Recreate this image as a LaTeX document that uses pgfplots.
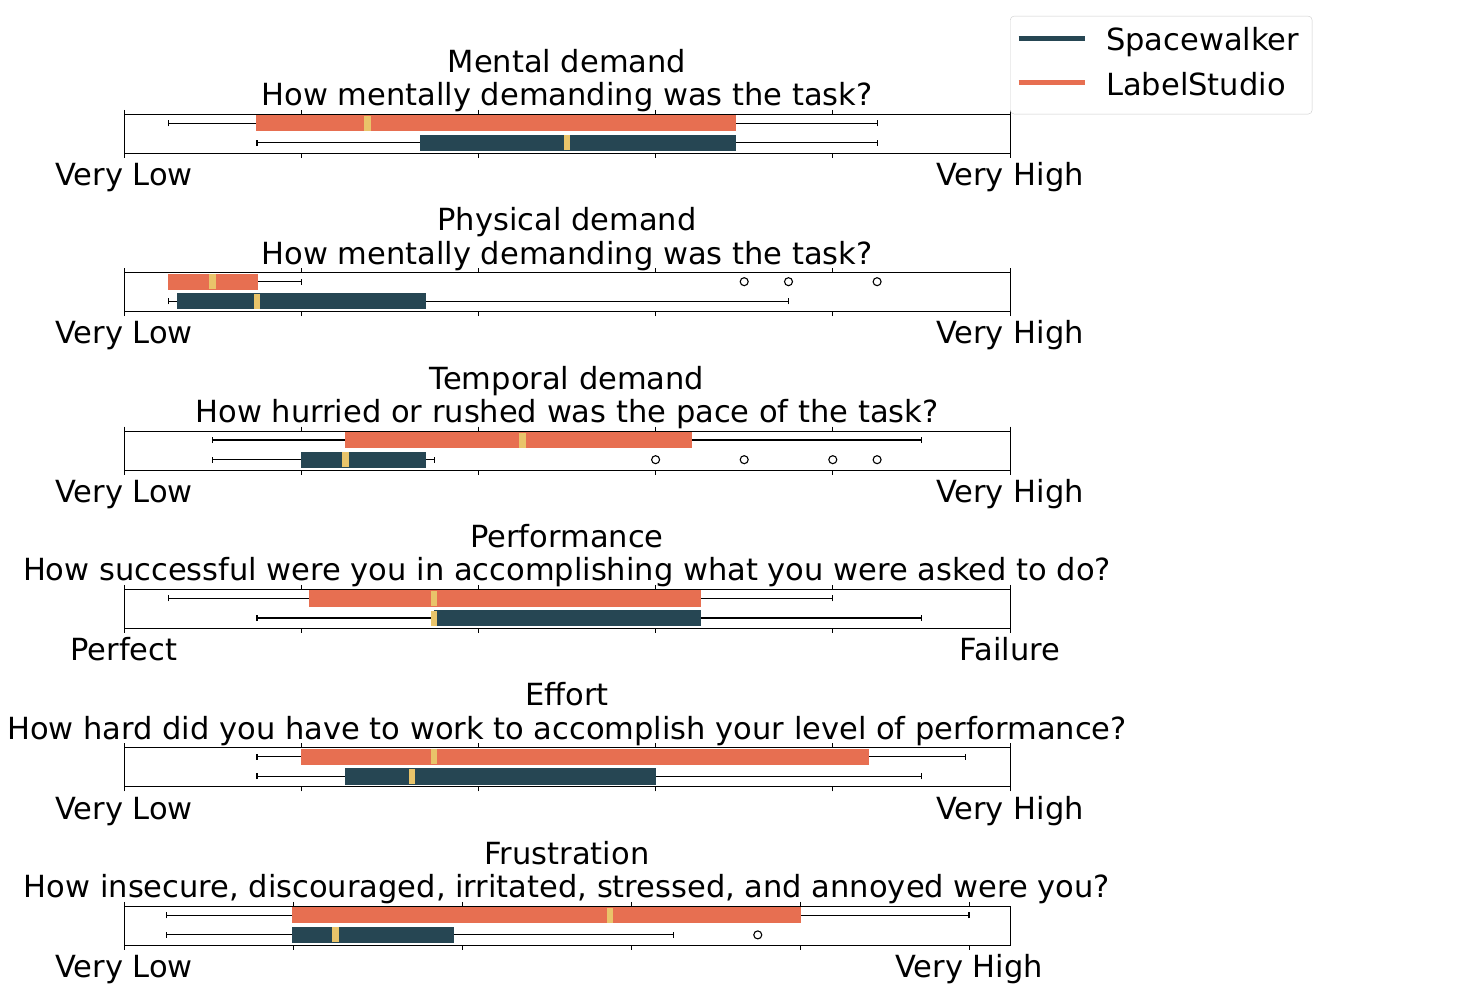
\documentclass[border=0pt]{standalone}
\usepackage{pgfplots}
\pgfplotsset{compat=1.18}
\usepgfplotslibrary{statistics}
\usepackage{fontspec}
\setmainfont{DejaVu Sans}

\definecolor{sw}{HTML}{264653}
\definecolor{ls}{HTML}{E76F51}
\definecolor{med}{HTML}{E9C46A}

\newcommand\fs{\fontsize{30.5}{33.4}\selectfont}

\pgfplotsset{
  panel/.style={
    scale only axis, width=886pt, height=39pt,
    anchor=south west,
    xmin=0, xmax=100, ymin=0, ymax=39,
    ytick=\empty, xtick={0,20,...,100},
    tick align=outside, major tick length=4.5pt,
    tick style={black, line width=0.8pt},
    axis line style={line width=1pt},
    xticklabel style={font=\fs, anchor=base, inner sep=0pt, yshift=-27.7pt},
    clip=false,
  },
}

% colour, position, lower whisker, lower quartile, median, upper quartile, upper whisker
\newcommand\bx[7]{%
  \addplot[black, line width=1.2pt, forget plot,
    mark=o, mark size=4pt, mark options={solid, black, line width=1.1pt},
    boxplot prepared={lower whisker=#3, lower quartile=#4, median=#5,
      upper quartile=#6, upper whisker=#7,
      draw position=#2, box extend=15, whisker extend=6},
    boxplot/every box/.style={draw=#1, fill=#1},
    boxplot/every median/.style={draw=med, line width=6.5pt}]
}
\newcommand\ttl[2]{%
  \node[font=\fs, anchor=base, inner sep=0pt, yshift=42pt] at (rel axis cs:0.5,1) {#1};
  \node[font=\fs, anchor=base, inner sep=0pt, yshift=8.6pt] at (rel axis cs:0.5,1) {#2};
}

\begin{document}
\begin{tikzpicture}
\useasboundingbox (0,0) rectangle (1481pt,1000pt);

% Mental demand
\begin{axis}[panel, at={(124pt,846.7pt)}, xticklabels={Very Low,,,,,Very High},
  legend style={at={(rel axis cs:1,1)}, anchor=south west, draw=black!20,
    rounded corners=4pt, font=\fs, inner xsep=6pt, inner ysep=11.5pt,
    row sep=14pt, column sep=0pt,
    nodes={inner sep=0pt, text height=23pt, text depth=7.5pt}},
  legend cell align=left,
  legend image code/.code={\draw[line width=5pt] (0pt,4.5pt) -- (66pt,4.5pt);},
  /tikz/every odd column/.append style={column sep=19pt}]
\addlegendimage{sw}\addlegendentry{Spacewalker\hspace*{7pt}}
\addlegendimage{ls}\addlegendentry{LabelStudio}
\bx{ls}{30}{5}{15}{27.5}{69}{85} coordinates {};
\bx{sw}{10.4}{15}{33.5}{50}{69}{85} coordinates {};
\ttl{Mental demand}{How mentally demanding was the task?}
\end{axis}

% Physical demand
\begin{axis}[panel, at={(124pt,688.3pt)}, xticklabels={Very Low,,,,,Very High}]
\bx{ls}{30}{5}{5}{10}{15}{20} table[row sep=\\, y index=0] {data\\ 70\\ 75\\ 85\\};
\bx{sw}{10.4}{5}{6}{15}{34}{75} coordinates {};
\ttl{Physical demand}{How mentally demanding was the task?}
\end{axis}

% Temporal demand
\begin{axis}[panel, at={(124pt,529.9pt)}, xticklabels={Very Low,,,,,Very High}]
\bx{ls}{30}{10}{25}{45}{64}{90} coordinates {};
\bx{sw}{10.4}{10}{20}{25}{34}{35} table[row sep=\\, y index=0] {data\\ 60\\ 70\\ 80\\ 85\\};
\ttl{Temporal demand}{How hurried or rushed was the pace of the task?}
\end{axis}

% Performance
\begin{axis}[panel, at={(124pt,371.5pt)}, xticklabels={Perfect,,,,,Failure}]
\bx{ls}{30}{5}{21}{35}{65}{80} coordinates {};
\bx{sw}{10.4}{15}{35}{35}{65}{90} coordinates {};
\ttl{Performance}{How successful were you in accomplishing what you were asked to do?}
\end{axis}

% Effort
\begin{axis}[panel, at={(124pt,213.1pt)}, xticklabels={Very Low,,,,,Very High}]
\bx{ls}{30}{15}{20}{35}{84}{95} coordinates {};
\bx{sw}{10.4}{15}{25}{32.5}{60}{90} coordinates {};
\ttl{Effort}{How hard did you have to work to accomplish your level of performance?}
\end{axis}

% Frustration
\begin{axis}[panel, at={(124pt,54.7pt)}, xmax=104.85, xticklabels={Very Low,,,,,Very High}]
\bx{ls}{30}{5}{20}{57.5}{80}{100} coordinates {};
\bx{sw}{10.4}{5}{20}{25}{39}{65} table[row sep=\\, y index=0] {data\\ 75\\};
\ttl{Frustration}{How insecure, discouraged, irritated, stressed, and annoyed were you?}
\end{axis}
\end{tikzpicture}
\end{document}
